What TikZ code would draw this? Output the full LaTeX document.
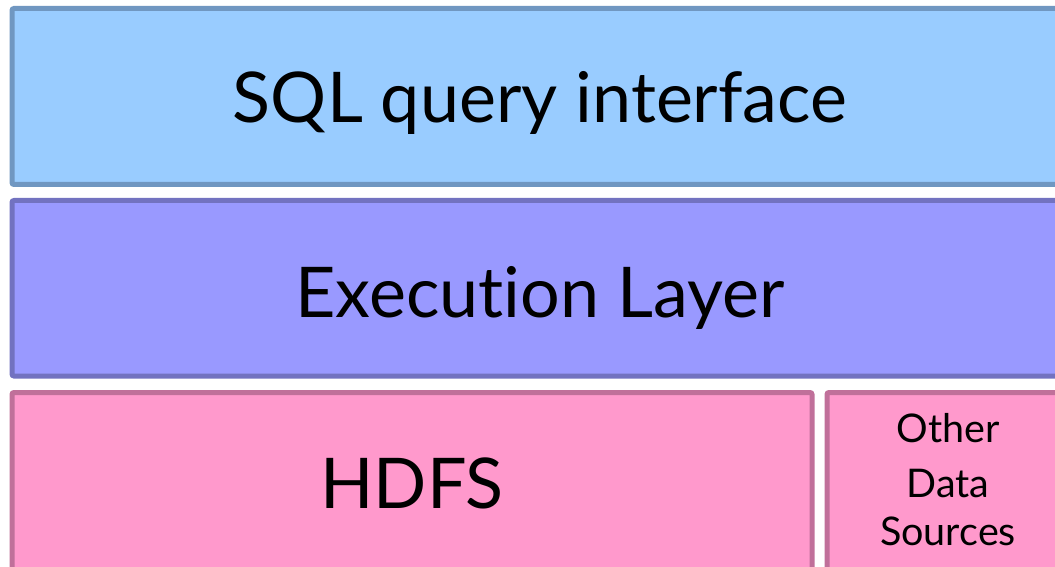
\documentclass[tikz,border=0pt]{standalone}
\usepackage{fontspec}
\setmainfont{Lato}[Ligatures=NoCommon]
\definecolor{sqlfill}{HTML}{99CCFF}
\definecolor{sqlline}{HTML}{7097C1}
\definecolor{exefill}{HTML}{9999FF}
\definecolor{exeline}{HTML}{7272C0}
\definecolor{pinkfill}{HTML}{FF99CC}
\definecolor{pinkline}{HTML}{C0709A}
\tikzset{
  layerbox/.style={rectangle, line width=5pt, rounded corners=2pt, inner sep=0pt, outer sep=0pt},
  bigtext/.style={anchor=base, inner sep=0pt, font=\fontsize{70}{84}\selectfont},
  smalltext/.style={anchor=base, inner sep=0pt, font=\fontsize{39.5}{47}\selectfont},
}
\begin{document}
\begin{tikzpicture}[x=1pt,y=1pt]
\useasboundingbox (0,0) rectangle (1055,566);
\begin{scope}
\clip (0,0) rectangle (1055,566);
\node[layerbox, fill=sqlfill, draw=sqlline, minimum width=1056pt, minimum height=176pt] (sqlbox) at (540,469.5) {};
\node[layerbox, fill=exefill, draw=exeline, minimum width=1056pt, minimum height=175.5pt] (exebox) at (540,277.75) {};
\node[layerbox, fill=pinkfill, draw=pinkline, minimum width=800pt, minimum height=184.5pt] (hdfsbox) at (412,81.25) {};
\node[layerbox, fill=pinkfill, draw=pinkline, minimum width=241pt, minimum height=184.5pt] (otherbox) at (947.5,81.25) {};
\end{scope}
\node[bigtext] (sqltext) at (540,443) {SQL query interface};
\node[bigtext] (exetext) at (540,249) {Execution Layer};
\node[bigtext] (hdfstext) at (412,58) {HDFS};
\node[smalltext] (other1) at (948,124) {Other};
\node[smalltext] (other2) at (948,69) {Data};
\node[smalltext] (other3) at (948,21) {Sources};
\end{tikzpicture}
\end{document}
